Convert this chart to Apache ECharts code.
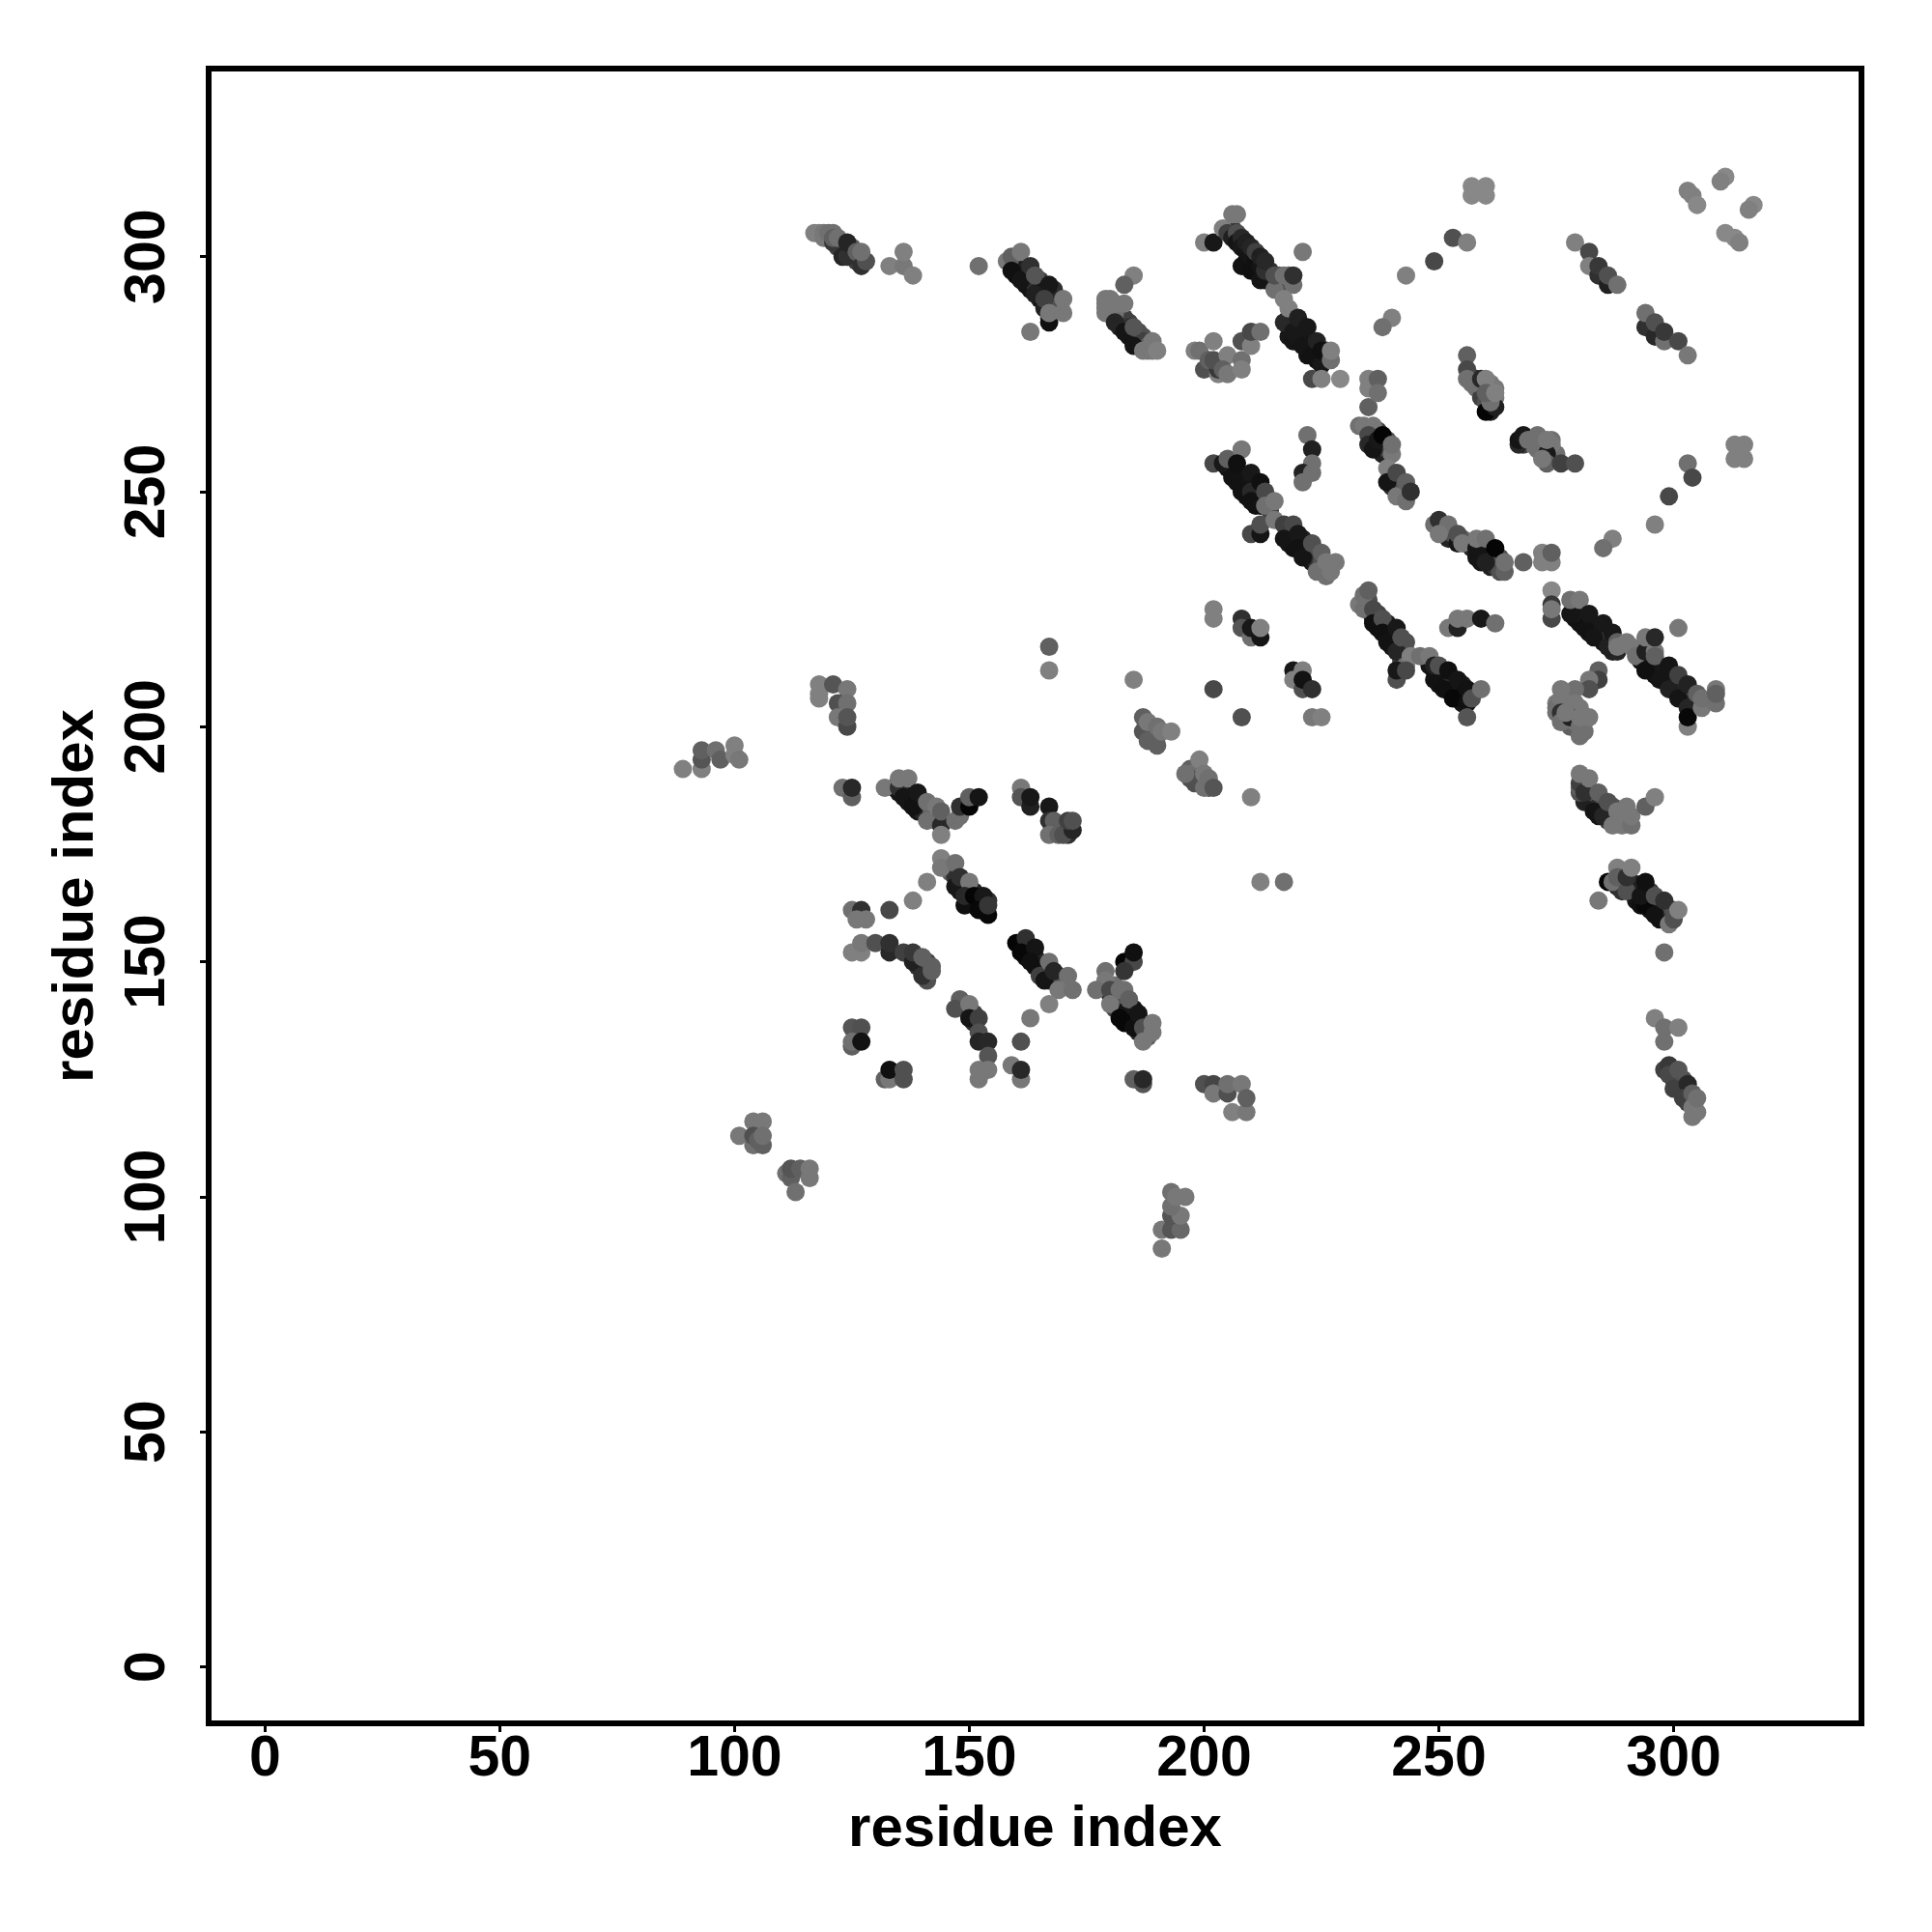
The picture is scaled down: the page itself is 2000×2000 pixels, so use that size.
<!DOCTYPE html>
<html><head><meta charset="utf-8">
<style>html,body{margin:0;padding:0;background:#fff}#c{width:2000px;height:2000px}</style>
<script src="https://cdn.jsdelivr.net/npm/echarts@6/dist/echarts.min.js"></script>
</head><body><div id="c"></div>
<script>
const tickValues=[0,50,100,150,200,250,300];
const axisTitle="residue index";
// each entry: [residue x, residue y, grey level]
const topRight=[[311,317,0x88],[310,316,0x80],[303,314,0x80],[304,313,0x80],[305,311,0x88],[317,311,0x88],[316,310,0x80],[311,305,0x88],[313,304,0x88],[314,303,0x80],
[257,315,0x88],[260,315,0x88],[257,313,0x88],[260,313,0x88],[258,314,0x88],[259,314,0x88],[313,260,0x80],[315,260,0x80],[313,257,0x80],[315,257,0x80],[314,258,0x80],[314,259,0x80]];
const arc=[[253,304,0x50],[256,303,0x80],[249,299,0x48],[243,296,0x80],[240,287,0x80],[238,285,0x70],[303,256,0x70],[304,253,0x48],[299,249,0x48],[296,243,0x80],[287,240,0x80],[285,238,0x70]];
const lineUpperRight=[[279,303,0x80],[282,301,0x48],[282,298,0x80],[284,296,0x30],[284,298,0x38],[286,294,0x20],[286,296,0x50],[288,294,0x70],
[294,285,0x30],[294,288,0x70],[296,283,0x28],[296,286,0x50],[298,282,0x70],[298,284,0x38],[301,282,0x48],[303,279,0x78]];
const bandA=[[200,303,0x80],[202,303,0x18],[204,306,0x80],[206,309,0x78],[207,309,0x78],[205,305,0x40],[206,304,0x20],[207,305,0x50],[207,303,0x15],[208,304,0x28],[208,302,0x18],[208,298,0x12],[209,301,0x15],[209,303,0x20],[210,297,0x10],[210,300,0x15],[210,302,0x25],[211,299,0x10],[211,301,0x40],[212,295,0x15],[212,298,0x15],[212,300,0x20],[213,297,0x30],[213,299,0x28],
[215,293,0x70],[215,296,0x50],[217,296,0x70],[219,294,0x70],[219,296,0x30],[221,301,0x78]];
const bandB=[[218,285,0x18],[217,286,0x28],[217,291,0x80],[218,289,0x80],[219,284,0x18],[220,287,0x20],[221,281,0x15],[222,285,0x18],[223,279,0x12],[224,282,0x22],[225,277,0x18],[225,280,0x10],[227,278,0x70],[227,280,0x80],[223,274,0x48],[225,274,0x80],[229,274,0x88]];
const clusterMid=[[198,280,0x80],[199,280,0x70],[202,282,0x80],[200,276,0x50],[201,278,0x60],[203,275,0x80],[203,276,0x38],[202,278,0x50],[205,279,0x80],[204,276,0x60],[205,275,0x78],[208,278,0x70],[208,276,0x80],[208,282,0x50],[210,281,0x80],[210,284,0x48],[212,284,0x70]];
const centerLines=[[235,268,0x60],[235,272,0x80],[235,274,0x80],[237,274,0x60],[237,271,0x70],[233,264,0x70],[234,264,0x78],[236,264,0x78],[235,262,0x48],[235,260,0x28],[236,259,0x15],[237,261,0x18],[238,262,0x05],[240,258,0x78],[240,260,0x70],[239,255,0x80],[239,252,0x15],[241,254,0x48],[241,249,0x78],[243,248,0x70],[243,252,0x60],[244,250,0x30]];
const innerBlock=[[256,279,0x60],[256,276,0x48],[256,274,0x70],[257,273,0x70],[259,274,0x28],[260,274,0x80],[260,267,0x05],[262,268,0x20],[261,269,0x70],[260,271,0x60],[262,271,0x80],
[267,260,0x28],[267,261,0x15],[268,262,0x18],[269,261,0x70],[271,262,0x70],[271,259,0x70],[273,258,0x18],[273,256,0x60],[272,257,0x78],[273,261,0x78],[276,256,0x40],[279,256,0x50]];
const bandLeft=[[202,256,0x48],[204,256,0x18],[205,257,0x60],[208,259,0x78],[206,253,0x12],[207,256,0x10],[208,250,0x12],[210,254,0x18],[210,250,0x28],[210,248,0x12],[212,252,0x10],[213,250,0x48],[213,247,0x70],[215,248,0x78],
[210,241,0x48],[212,241,0x15],[212,243,0x50],[215,244,0x78]];
const bandC=[[217,243,0x40],[219,243,0x48],[217,240,0x15],[220,241,0x18],[220,238,0x12],[221,236,0x15],[223,239,0x50],[225,237,0x60],[224,233,0x70],[226,235,0x78],[226,232,0x70],[227,233,0x78],[228,235,0x78],
[222,262,0x70],[223,259,0x20],[223,256,0x70],[221,254,0x22],[223,254,0x70],[221,252,0x70]];
const curve=[[249,243,0x70],[250,244,0x30],[252,243,0x70],[250,241,0x78],[254,239,0x15],[254,241,0x50],[255,239,0x78],[258,238,0x15],[258,240,0x78],[260,240,0x70],[260,235,0x20],[262,238,0x05],[264,233,0x60],[264,235,0x70],[268,235,0x60],[272,237,0x80],[272,235,0x80],[274,235,0x80],[274,237,0x60]];
const bandD=[[274,229,0x88],[274,223,0x48],[274,226,0x38],[274,225,0x78],[278,224,0x15],[278,227,0x70],[280,227,0x78],[281,221,0x12],[282,224,0x18],[283,219,0x15],[285,222,0x18],[286,217,0x20],[287,220,0x18],[288,218,0x60],[288,217,0x78],[290,218,0x78],[291,217,0x78],
[292,215,0x70],[294,212,0x10],[294,216,0x20],[294,219,0x78],[296,216,0x78],[296,219,0x28],[296,215,0x60],[297,210,0x15],[299,208,0x20],[299,213,0x15],[301,206,0x15],[301,211,0x40],[303,209,0x22],[303,204,0x25],[303,200,0x80],[303,202,0x08],[306,204,0x78],[305,207,0x60],[306,206,0x70],[309,205,0x70],[309,208,0x78],[309,207,0x60],[301,221,0x78]];
const clusterLower=[[284,212,0x60],[284,210,0x40],[282,210,0x78],[282,208,0x50],[279,208,0x70],[276,208,0x78],[276,206,0x78],[279,205,0x78],[275,203,0x70],[276,203,0x30],[276,201,0x70],[278,202,0x20],[277,203,0x78],[280,198,0x70],[280,200,0x70],[280,202,0x78],[282,202,0x78]];
const columnRight=[[280,187,0x60],[280,188,0x40],[281,186,0x30],[280,190,0x78],[282,189,0x78],[283,182,0x15],[285,181,0x25],[284,186,0x60],[286,184,0x50],[288,182,0x78],[287,179,0x78],[289,179,0x78],[291,179,0x70],[291,181,0x78],[290,183,0x78],[294,183,0x60],[296,185,0x80],
[286,167,0x05],[287,167,0x70],[288,170,0x80],[288,168,0x60],[290,165,0x50],[290,168,0x30],[291,170,0x80],[294,162,0x08],[293,164,0x15],[294,167,0x10],[296,160,0x12],[296,164,0x50],[298,163,0x30],[299,158,0x78],[300,159,0x50],[301,161,0x80],[284,163,0x78],[298,152,0x70],
[296,138,0x80],[298,136,0x70],[301,136,0x80],[298,133,0x70],[298,127,0x40],[299,128,0x38],[299,126,0x48],[300,123,0x40],[301,127,0x55],[303,124,0x28],[302,121,0x40],[304,122,0x60],[304,117,0x78],[304,119,0x78],[305,118,0x78],[305,121,0x70]];
const midScatter=[[202,225,0x80],[202,223,0x80],[208,223,0x30],[208,221,0x55],[210,219,0x70],[210,221,0x18],[212,219,0x15],[212,221,0x80],[219,212,0x18],[219,210,0x80],[221,212,0x80],[221,208,0x50],[221,210,0x12],[223,208,0x30],[202,208,0x48],[208,202,0x50],[223,202,0x78],[225,202,0x80],[212,167,0x80],[217,167,0x70],[210,185,0x80],[167,217,0x60],[167,212,0x80],[185,210,0x80]];
const bandE=[[233,226,0x78],[234,228,0x70],[234,225,0x70],[235,229,0x60],[236,225,0x48],[236,222,0x10],[238,223,0x50],[238,220,0x10],[239,218,0x12],[241,221,0x18],[241,216,0x25],[242,219,0x50],[243,213,0x70],[244,215,0x80],[241,210,0x50],[241,212,0x18],[243,212,0x48]];
const bandF=[[246,215,0x70],[248,215,0x78],[249,210,0x12],[249,213,0x20],[250,213,0x50],[251,208,0x10],[252,212,0x10],[253,206,0x08],[254,210,0x15],[256,205,0x10],[256,208,0x12],[257,206,0x50],[259,208,0x70],[256,202,0x55],
[252,221,0x78],[254,221,0x22],[254,223,0x78],[256,223,0x78],[259,223,0x18],[262,222,0x70]];
const leftPatch=[[89,191,0x80],[93,191,0x80],[93,193,0x55],[93,195,0x60],[96,195,0x70],[97,193,0x60],[100,196,0x80],[100,194,0x80],[101,193,0x78],
[118,209,0x80],[118,207,0x80],[118,206,0x80],[121,209,0x55],[124,208,0x78],[122,205,0x50],[124,205,0x70],[122,202,0x78],[124,200,0x48],[124,202,0x55]];
const diagonalPatch=[[187,199,0x55],[188,197,0x60],[187,202,0x60],[188,201,0x78],[190,196,0x60],[190,200,0x70],[191,199,0x78],[193,199,0x80],
[197,189,0x50],[196,190,0x70],[199,193,0x80],[200,190,0x78],[201,189,0x70],[200,187,0x70],[202,187,0x55]];
const bandG=[[123,187,0x70],[125,185,0x60],[125,187,0x28],[132,187,0x78],[135,187,0x30],[135,189,0x78],[137,189,0x78],[136,185,0x15],[138,183,0x12],[139,186,0x18],[141,184,0x70],[141,180,0x70],[143,183,0x78],[144,179,0x28],[144,177,0x80],[144,182,0x60],[147,180,0x70],[148,181,0x70],[148,183,0x30],[150,183,0x05],[150,185,0x60],[152,185,0x15]];
const bandH=[[161,187,0x78],[161,185,0x55],[163,183,0x20],[163,185,0x18],[167,183,0x18],[167,180,0x30],[168,180,0x60],[167,177,0x70],[169,177,0x60],[170,177,0x50],[172,178,0x25],[171,180,0x40],[172,180,0x50]];
const bandI=[[144,172,0x80],[144,170,0x78],[147,171,0x70],[141,167,0x80],[147,166,0x18],[148,168,0x30],[150,167,0x78],[149,164,0x28],[151,164,0x05],[153,164,0x18],[152,161,0x08],[154,160,0x08],[154,162,0x35],[138,163,0x80],[133,161,0x48],[125,161,0x70],[127,161,0x30],[126,159,0x78],[128,159,0x78]];
const bandJ=[[125,152,0x80],[127,152,0x80],[127,154,0x78],[130,154,0x50],[133,152,0x28],[133,154,0x30],[136,152,0x40],[138,150,0x20],[138,152,0x38],[140,147,0x30],[140,151,0x60],[142,149,0x60],[142,148,0x60]];
const bandK=[[160,154,0x05],[162,155,0x30],[161,152,0x08],[164,153,0x15],[163,150,0x10],[165,147,0x40],[166,146,0x15],[167,150,0x70],[168,148,0x25],[171,147,0x70],[169,144,0x78],[172,144,0x70],[167,141,0x80],[163,138,0x78],[161,133,0x50]];
const crossCluster=[[183,150,0x05],[185,150,0x48],[185,152,0x10],[183,148,0x35],[179,148,0x70],[179,146,0x78],[177,144,0x70],[180,144,0x48],[180,141,0x78],[182,138,0x08],[182,144,0x70],[184,142,0x60],[185,136,0x10],[186,139,0x15],[187,136,0x50],[187,133,0x78],[189,135,0x78],[189,137,0x78]];
const lowerBits=[[148,142,0x60],[147,140,0x50],[150,141,0x78],[150,138,0x15],[152,138,0x40],[152,135,0x50],[152,133,0x25],[154,133,0x28],[154,130,0x55],[152,125,0x78],[152,127,0x78],[154,127,0x78],
[125,136,0x55],[127,136,0x50],[125,132,0x60],[125,133,0x70],[127,133,0x12],[132,125,0x60],[133,125,0x78],[133,127,0x10],[136,125,0x50],[136,127,0x50],[159,128,0x78],[161,125,0x78],[161,127,0x28],[185,125,0x60],[187,124,0x55],[187,125,0x28],
[200,124,0x50],[202,124,0x45],[202,122,0x78],[205,122,0x50],[205,124,0x70],[208,124,0x78],[206,118,0x80],[209,118,0x78],[209,121,0x60]];
const bottomPatch=[[101,113,0x78],[104,116,0x78],[106,116,0x78],[104,111,0x70],[104,113,0x50],[105,112,0x60],[106,111,0x60],[106,113,0x70],[111,105,0x70],[112,104,0x60],[112,106,0x55],[113,101,0x70],[114,106,0x60],[116,104,0x78],[116,106,0x78],
[191,89,0x78],[191,93,0x78],[193,93,0x55],[195,93,0x68],[193,96,0x55],[195,96,0x78],[193,98,0x70],[193,101,0x70],[194,100,0x78],[196,100,0x78]];
const topLeftA=[[117,305,0x80],[118,305,0x80],[119,305,0x78],[119,304,0x78],[120,305,0x70],[121,305,0x70],[121,303,0x38],[121,304,0x60],[122,304,0x70],[123,300,0x25],[124,300,0x30],[124,303,0x25],[126,301,0x60],[127,298,0x30],[128,299,0x50],[127,301,0x70],[133,298,0x80],[136,298,0x78],[136,301,0x80],[138,296,0x80],[152,298,0x70]];
const topLeftB=[[158,299,0x78],[159,300,0x60],[161,301,0x78],[159,297,0x10],[161,295,0x15],[163,298,0x30],[164,296,0x55],[164,292,0x20],[167,294,0x18],[166,291,0x40],[167,286,0x10],[167,288,0x78],[170,288,0x78],[170,291,0x78],[163,284,0x78]];
const topLeftC=[[185,296,0x80],[183,294,0x60],[179,288,0x78],[179,289,0x78],[179,291,0x78],[179,290,0x78],[180,290,0x78],[180,291,0x78],[181,290,0x78],[183,290,0x78],[181,286,0x25],[183,284,0x15],[185,285,0x55],[185,281,0x15],[187,280,0x78],[188,280,0x78],[189,280,0x78],[189,282,0x78],[190,280,0x80]];

// denser residues lying between the clearer dots of each band
const fillA=[[206,306,0x30],[207,304,0x18],[208,303,0x15],[209,302,0x15],[209,299,0x12],[210,301,0x18],[211,300,0x15],[211,297,0x12],[212,299,0x15],[212,296,0x12],[213,298,0x18],[213,295,0x15],[214,297,0x30],[214,295,0x30],[216,294,0x50],[216,296,0x50],[218,294,0x50],[218,296,0x60]];
const fillB=[[218,287,0x28],[219,286,0x20],[218,283,0x18],[219,282,0x15],[220,283,0x18],[220,285,0x20],[221,283,0x18],[221,284,0x25],[222,281,0x15],[222,283,0x18],[223,281,0x18],[224,280,0x12],[224,278,0x12],[225,279,0x12],[226,278,0x18],[226,280,0x30],[222,279,0x12]];
const fillLeft=[[205,255,0x15],[206,255,0x12],[207,254,0x12],[207,252,0x12],[208,253,0x15],[208,251,0x12],[209,252,0x15],[209,250,0x12],[209,249,0x12],[210,252,0x15],[211,251,0x15],[211,249,0x10],[211,247,0x12],[212,249,0x15],[212,247,0x12],[213,248,0x20],[214,247,0x40],[214,246,0x40]];
const fillC=[[218,241,0x15],[218,239,0x15],[219,240,0x15],[219,238,0x12],[220,239,0x15],[221,238,0x15],[221,240,0x20],[222,238,0x20],[222,236,0x15],[223,237,0x30],[223,235,0x18],[224,236,0x40],[224,235,0x30],[225,234,0x40],[225,235,0x50],[226,233,0x50]];
const fillCenter=[[235,263,0x40],[236,262,0x25],[236,260,0x15],[237,263,0x40],[237,259,0x15],[238,260,0x15],[238,258,0x20],[239,259,0x40],[239,261,0x50],[240,253,0x18],[240,251,0x30],[241,251,0x40],[241,252,0x30],[242,251,0x50],[242,250,0x50],[243,250,0x30],[243,249,0x40]];
const fillCurve=[[250,243,0x30],[251,242,0x40],[251,241,0x40],[252,241,0x25],[252,240,0x25],[253,240,0x25],[253,241,0x50],[255,240,0x60],[257,239,0x25],[257,238,0x25],[258,236,0x15],[259,237,0x15],[259,235,0x15],[260,237,0x15],[261,236,0x15],[261,234,0x20],[262,236,0x40],[262,234,0x30],[263,234,0x40],[263,233,0x50],[263,236,0x50]];
const fillE=[[234,226,0x70],[235,227,0x50],[235,225,0x30],[236,224,0x25],[236,223,0x15],[237,224,0x40],[237,222,0x20],[237,221,0x10],[238,221,0x15],[239,222,0x25],[239,220,0x12],[240,219,0x12],[240,221,0x18],[240,217,0x15],[241,219,0x30],[241,218,0x20],[242,217,0x30],[242,215,0x30],[243,218,0x50],[243,216,0x50],[242,214,0x40]];
const fillF=[[248,213,0x15],[249,212,0x12],[250,211,0x12],[250,209,0x12],[251,212,0x15],[251,210,0x12],[252,210,0x20],[252,208,0x12],[253,209,0x30],[253,207,0x10],[254,208,0x18],[254,206,0x10],[255,209,0x20],[255,207,0x10],[256,206,0x10],[255,205,0x15],[257,207,0x50]];
const fillD=[[279,225,0x18],[279,223,0x12],[280,224,0x15],[280,222,0x12],[281,223,0x18],[282,222,0x15],[282,220,0x12],[283,221,0x25],[284,221,0x18],[284,219,0x15],[285,220,0x20],[285,218,0x15],[286,219,0x30],[287,218,0x30],[287,216,0x20],[288,216,0x25],[295,214,0x15],[295,212,0x15],[296,214,0x18],[296,211,0x12],[297,213,0x15],[298,212,0x18],[298,210,0x15],[299,211,0x20],[300,210,0x18],[300,208,0x18],[301,209,0x20],[302,208,0x25],[302,206,0x15],[303,207,0x30],[304,207,0x40],[304,205,0x30],[305,205,0x40],[292,216,0x40],[293,215,0x20],[293,214,0x15],[294,214,0x12]];
const fillG=[[134,187,0x20],[135,186,0x15],[136,186,0x15],[137,185,0x15],[137,184,0x15],[138,185,0x20],[139,184,0x20],[139,182,0x15],[140,183,0x30],[140,182,0x25],[142,182,0x60],[142,181,0x60],[143,181,0x40],[143,180,0x30]];
const fillI=[[146,169,0x60],[147,168,0x30],[148,166,0x18],[148,165,0x15],[149,166,0x20],[149,162,0x10],[150,165,0x15],[150,163,0x10],[151,165,0x25],[151,162,0x10],[152,163,0x12],[153,161,0x08],[153,162,0x10],[154,163,0x30]];
const fillK=[[161,154,0x12],[162,153,0x12],[162,151,0x10],[163,152,0x15],[164,151,0x15],[164,149,0x10],[165,150,0x25],[165,149,0x15],[166,149,0x30],[166,148,0x15],[167,148,0x25],[167,146,0x30],[168,147,0x40],[168,146,0x30],[169,147,0x50]];
const fillCross=[[181,145,0x70],[183,144,0x70],[183,141,0x30],[181,142,0x70],[181,140,0x40],[182,141,0x18],[182,143,0x50],[183,139,0x10],[184,138,0x10],[184,140,0x15],[185,138,0x10],[185,140,0x18],[186,137,0x15],[186,135,0x25],[187,137,0x25],[187,135,0x40],[188,136,0x60],[188,134,0x60],[184,137,0x10],[183,137,0x08],[180,143,0x30]];
const fillColumn=[[281,188,0x40],[281,184,0x25],[282,186,0x40],[282,184,0x20],[283,184,0x20],[283,186,0x50],[284,183,0x30],[284,181,0x18],[285,183,0x50],[286,182,0x20],[286,180,0x40],[287,181,0x30],[287,183,0x50],[288,180,0x50],[281,187,0x60],[280,186,0x50],
[288,166,0x25],[289,167,0x20],[289,165,0x30],[291,165,0x20],[291,167,0x20],[292,165,0x15],[292,163,0x15],[293,166,0x20],[293,162,0x10],[294,164,0x20],[295,163,0x15],[295,161,0x12],[295,165,0x40],[296,162,0x20],[297,161,0x15],[297,163,0x30],[297,159,0x12],[298,160,0x25],[298,161,0x30],[299,160,0x40],[300,161,0x50],
[299,127,0x40],[300,125,0x40],[300,127,0x40],[301,125,0x40],[301,123,0x30],[302,123,0x30],[302,125,0x50],[303,122,0x40],[303,120,0x40]];
const fillTopB=[[160,298,0x15],[160,296,0x10],[161,297,0x20],[162,296,0x20],[162,294,0x15],[163,295,0x15],[163,293,0x15],[164,294,0x30],[165,295,0x40],[165,293,0x20],[165,291,0x15],[166,293,0x18],[166,289,0x20],[167,292,0x15],[167,290,0x20],[168,293,0x30],[168,291,0x25],[168,289,0x50],[167,287,0x40]];
const fillTopC=[[182,287,0x30],[182,285,0x20],[183,287,0x40],[184,286,0x40],[184,283,0x15],[184,285,0x30],[185,284,0x40],[186,284,0x50],[186,283,0x30],[186,281,0x20],[187,283,0x50],[187,282,0x40],[188,281,0x60],[180,288,0x70],[181,288,0x70]];
const fillTopA=[[122,302,0x40],[123,302,0x30],[123,301,0x30],[125,302,0x60],[125,300,0x40],[126,299,0x40],[126,300,0x50],[127,300,0x60]];
const fillMisc=[[149,140,0x30],[151,137,0x30],[151,139,0x40],[139,150,0x30],[139,149,0x30],[141,148,0x30],[141,150,0x40],[141,146,0x50],
[168,178,0x50],[169,179,0x50],[170,179,0x60],[171,177,0x30],[171,178,0x30],[169,178,0x40],
[258,274,0x30],[258,272,0x70],[259,272,0x60],[259,270,0x40],[260,269,0x50],[261,272,0x78],[261,267,0x20],[261,273,0x78],[262,270,0x78],[262,272,0x78],[260,272,0x78],
[268,261,0x20],[268,260,0x40],[270,261,0x70],[270,260,0x70],[272,260,0x78],[272,258,0x50],[274,259,0x50],[274,257,0x50],[274,261,0x70],[275,258,0x70],[273,259,0x78],[274,260,0x78],
[276,204,0x60],[277,205,0x60],[277,202,0x40],[278,204,0x70],[278,200,0x60],[279,203,0x60],[279,201,0x70],[280,204,0x78],[281,201,0x78],[281,199,0x70],[275,205,0x78],[275,204,0x70],
[188,199,0x60],[189,198,0x60],[189,200,0x70],[189,197,0x70],[190,198,0x70],[188,198,0x50],[197,191,0x60],[198,190,0x60],[198,188,0x50],[199,188,0x50],[199,189,0x70],[199,191,0x70],[201,187,0x50],[197,190,0x70]];

const points=[].concat(fillA,fillB,fillLeft,fillC,fillCenter,fillCurve,fillE,fillF,fillD,fillG,fillI,fillK,fillCross,fillColumn,fillTopB,fillTopC,fillTopA,fillMisc,
 topRight,arc,lineUpperRight,bandA,bandB,clusterMid,centerLines,innerBlock,bandLeft,bandC,curve,bandD,clusterLower,columnRight,midScatter,bandE,bandF,leftPatch,diagonalPatch,bandG,bandH,bandI,bandJ,bandK,crossCluster,lowerBits,bottomPatch,topLeftA,topLeftB,topLeftC);

const chart=echarts.init(document.getElementById('c'),null,{renderer:'canvas'});
const font="'Liberation Sans',Arial,sans-serif";
const axisCommon={
  type:'value',min:-12,max:340,
  splitLine:{show:false},
  axisLine:{show:false,onZero:false},
  axisTick:{show:true,length:9,lineStyle:{color:'#000',width:3},customValues:tickValues},
  nameLocation:'middle',name:axisTitle,
  nameTextStyle:{fontFamily:font,fontWeight:'bold',fontSize:60,color:'#000'}
};
chart.setOption({
  animation:false,backgroundColor:'#fff',
  grid:{left:216,right:73,top:71,bottom:216,show:true,borderColor:'#000',borderWidth:6,backgroundColor:'transparent'},
  xAxis:Object.assign({},axisCommon,{nameGap:80,
    axisLabel:{customValues:tickValues,fontFamily:font,fontWeight:'bold',fontSize:59,color:'#000',margin:8}}),
  yAxis:Object.assign({},axisCommon,{nameGap:107,
    axisLabel:{customValues:tickValues,rotate:90,fontFamily:font,fontWeight:'bold',fontSize:59,color:'#000',margin:33}}),
  series:[{type:'scatter',symbol:'circle',symbolSize:19,data:points,encode:{x:0,y:1},
    itemStyle:{opacity:1,color:p=>{const g=p.value[2];return 'rgb('+g+','+g+','+g+')';}},silent:true}]
});
</script></body></html>
